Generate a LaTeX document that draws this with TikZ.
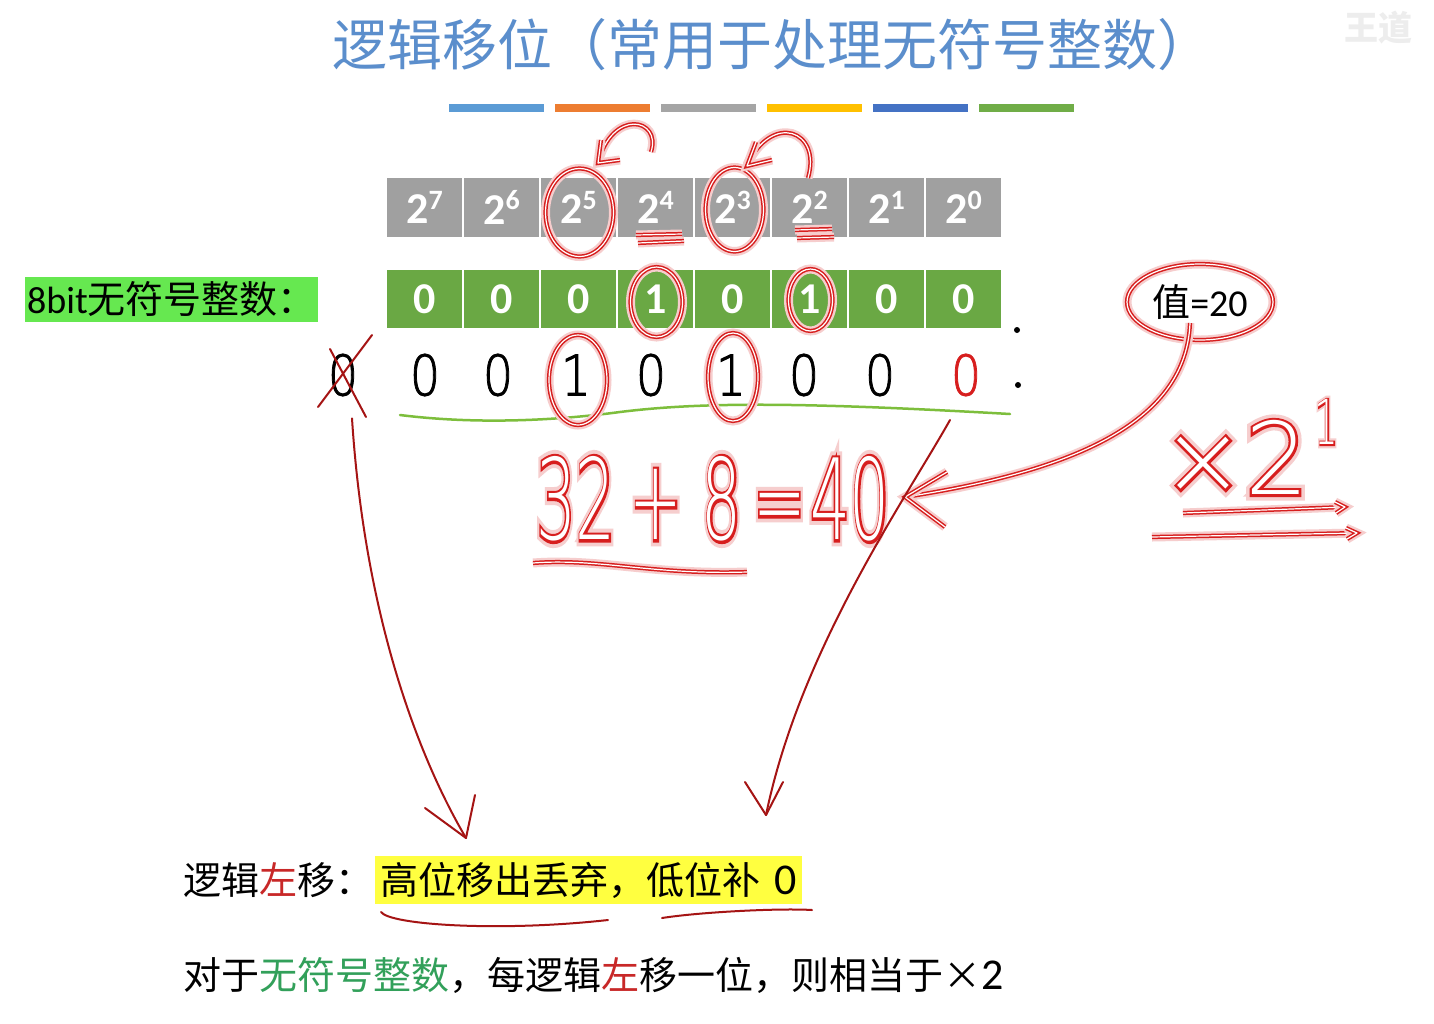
\documentclass[tikz,border=0pt]{standalone}
\usepackage{fontspec}
\newfontfamily\cjk{Noto Sans CJK SC}
\newfontfamily\calib{Carlito}
\newfontfamily\thin{DejaVu Sans ExtraLight}
\newfontfamily\thinmid{DejaVu Sans ExtraLight}[FakeBold=1.6]
\newfontfamily\thinfat{DejaVu Sans ExtraLight}[FakeBold=5]
\newfontfamily\thinglow{DejaVu Sans ExtraLight}[FakeBold=12]
\usetikzlibrary{arrows.meta}

\definecolor{titleblue}{RGB}{91,142,204}
\definecolor{barblue}{RGB}{91,155,213}
\definecolor{barorange}{RGB}{237,125,49}
\definecolor{bargray}{RGB}{165,165,165}
\definecolor{baryellow}{RGB}{255,192,0}
\definecolor{bardblue}{RGB}{68,114,196}
\definecolor{bargreen}{RGB}{112,173,71}
\definecolor{cellgray}{RGB}{160,160,160}
\definecolor{cellgreen}{RGB}{106,168,68}
\definecolor{lblgreen}{RGB}{102,232,80}
\definecolor{hlyellow}{RGB}{255,255,64}
\definecolor{penred}{RGB}{215,30,30}
\definecolor{inkred}{RGB}{165,20,20}
\definecolor{txtred}{RGB}{200,40,40}
\definecolor{txtgreen}{RGB}{50,160,90}
\definecolor{linegreen}{RGB}{125,190,60}

\tikzset{
  graycell/.style={fill=cellgray, minimum width=75pt, minimum height=59pt, inner sep=0pt,
    text=white, font=\calib\bfseries\fontsize{44}{44}\selectfont},
  bitcell/.style={graycell, fill=cellgreen, minimum height=58pt},
  hand/.style={font=\thinmid\fontsize{56}{56}\selectfont, inner sep=0pt},
  cjktext/.style={font=\cjk\fontsize{38}{38}\selectfont, inner sep=0pt},
  pen/.style={draw=white, line width=1.2pt, line cap=round, line join=round,
    preaction={draw=penred!22, line width=9pt},
    preaction={draw=penred, line width=4.2pt}},
  ink/.style={draw=inkred, line width=2pt, line cap=round, line join=round},
  bar/.style={line width=8pt},
}

% pen-written text: glow, red body, white core
\newcommand{\penword}[4]{%
  \node[font=\thinglow\fontsize{#3}{#3}\selectfont, text=penred!22] (#1-glow) at (#2) {#4};
  \node[font=\thinfat\fontsize{#3}{#3}\selectfont, text=penred] (#1) at (#2) {#4};
  \node[font=\thin\fontsize{#3}{#3}\selectfont, text=white] (#1-core) at (#2) {#4};}

\begin{document}
\begin{tikzpicture}[x=1pt, y=-1pt]
\useasboundingbox (0,0) rectangle (1434,1023);
\fill[white] (0,0) rectangle (1434,1023);

% title and colour bar
\node[font=\cjk\fontsize{55}{55}\selectfont, text=titleblue] (title) at (772,45) {逻辑移位（常用于处理无符号整数）};
\node[font=\cjk\bfseries\fontsize{34}{34}\selectfont, text=black!7] (wm) at (1378,28) {王道};
\foreach \c [count=\i from 0] in {barblue,barorange,bargray,baryellow,bardblue,bargreen}
  \draw[bar, \c] ({449+106*\i},108) -- ++(95,0);

% weights and bits
\foreach \e [count=\i from 0] in {7,...,0}
  \node[graycell] (w\e) at ({424.5+77*\i},207.5) {2\raisebox{0.33em}{\fontsize{28}{28}\selectfont\e}};
\foreach \b [count=\i from 0] in {0,0,0,1,0,1,0,0}
  \node[bitcell] (b\i) at ({424.5+77*\i},299) {\b};
\node[fill=lblgreen, anchor=west, minimum height=45pt, inner xsep=2pt, inner ysep=0pt] (lbl) at (25,299.5)
  {{\calib\fontsize{38}{38}\selectfont 8bit}{\cjk\fontsize{38}{38}\selectfont 无符号整数：}};

% handwritten shifted bits
\foreach \d/\x/\c [count=\i from 0] in {0/343/black,0/425/black,0/498/black,1/576/black,0/651/black,1/731/black,0/804/black,0/880/black,0/966/penred}
  \node[hand, text=\c] (h\i) at (\x,375) {\scalebox{0.85}[1]{\d}};
\fill (1017,330) circle (3);
\fill (1018,385) circle (3);
\draw[linegreen, line width=2.5pt, line cap=round] (400,415) .. controls (480,425) and (560,420) .. (620,412)
  .. controls (700,402) and (800,402) .. (1010,414);
\draw[ink] ([shift={(-25,32)}]h0.center) -- ([shift={(29,-40)}]h0.center);
\draw[ink] ([shift={(-13,-26)}]h0.center) -- ([shift={(23,42)}]h0.center);

% pen marks
\draw[pen] ([shift={(1,5)}]w5.center) ellipse [x radius=34, y radius=44];
\draw[pen] ([shift={(2,2)}]w3.center) ellipse [x radius=29, y radius=42];
\draw[pen] ([shift={(1,3)}]b3.center) ellipse [x radius=26, y radius=35];
\draw[pen] ([shift={(1,1)}]b5.center) ellipse [x radius=22, y radius=31];
\draw[pen] ([shift={(2,5)}]h3.center) ellipse [x radius=29, y radius=45];
\draw[pen] ([shift={(2,2)}]h5.center) ellipse [x radius=25, y radius=44];
\draw[pen] (651,152) .. controls (662,118) and (612,108) .. (598,163);
\draw[pen] (601,140) -- (598,163) -- (620,160);
\draw[pen] (808,178) .. controls (822,130) and (772,112) .. (747,165);
\draw[pen] (756,142) -- (747,166) -- (772,160);
\draw[pen] (636,235) -- (682,234);
\draw[pen] (638,243) -- (684,241);
\draw[pen] (795,230) -- (832,229);
\draw[pen] (797,238) -- (834,237);

% value and the sum
\node[font=\cjk\fontsize{38}{38}\selectfont] (val) at (1200,302) {值{\calib =20}};
\draw[pen] (val.center) ellipse [x radius=73, y radius=38];
\penword{sum}{713,499}{112}{\scalebox{0.56}[1]{32\hspace{25pt}+\hspace{35pt}8\hspace{20pt}=\hspace{8pt}40}}
\coordinate (tip) at (905,497);
\draw[pen] ([xshift=-10pt]val.south) .. controls (1186,420) and (1080,470) .. (tip);
\draw[pen] (947,472) -- (tip) -- (945,527);
\draw[pen] (533,563) .. controls (600,558) and (650,575) .. (747,572);
\penword{times}{1250,447}{100}{×2\hspace{6pt}\raisebox{0.5em}{\scalebox{0.6}[1]{\fontsize{62}{62}\selectfont 1}}}
\draw[pen] (1183,513) -- (1345,507);
\draw[pen] (1335,502) -- (1345,507) -- (1336,513);
\draw[pen] (1152,537) -- (1357,533);
\draw[pen] (1346,528) -- (1357,533) -- (1347,539);

% bottom notes
\node[cjktext, anchor=west] (rule) at (183,880) {逻辑{\color{txtred}左}移：};
\node[cjktext, anchor=west, fill=hlyellow, inner xsep=5pt, minimum height=48pt] (hl) at (375,880)
  {高位移出丢弃，低位补\hspace{14pt}{\calib\fontsize{44}{44}\selectfont 0}};
\node[cjktext, anchor=west] (note) at (183,975)
  {对于{\color{txtgreen}无符号整数}，每逻辑{\color{txtred}左}移一位，则相当于×{\calib\fontsize{44}{44}\selectfont 2}};
\coordinate (drop) at (466,838);
\coordinate (fill) at (766,815);
\draw[ink] ([shift={(9,22)}]h0.south) .. controls (365,620) and (420,760) .. (drop);
\draw[ink] (425,808) -- (drop) -- (475,795);
\draw[ink] (950,420) .. controls (905,500) and (800,650) .. (fill);
\draw[ink] (745,782) -- (fill) -- (783,782);
\draw[ink] (381,912) .. controls (390,925) and (500,932) .. (608,920);
\draw[ink] (662,918) .. controls (700,912) and (780,908) .. (812,910);
\end{tikzpicture}
\end{document}
